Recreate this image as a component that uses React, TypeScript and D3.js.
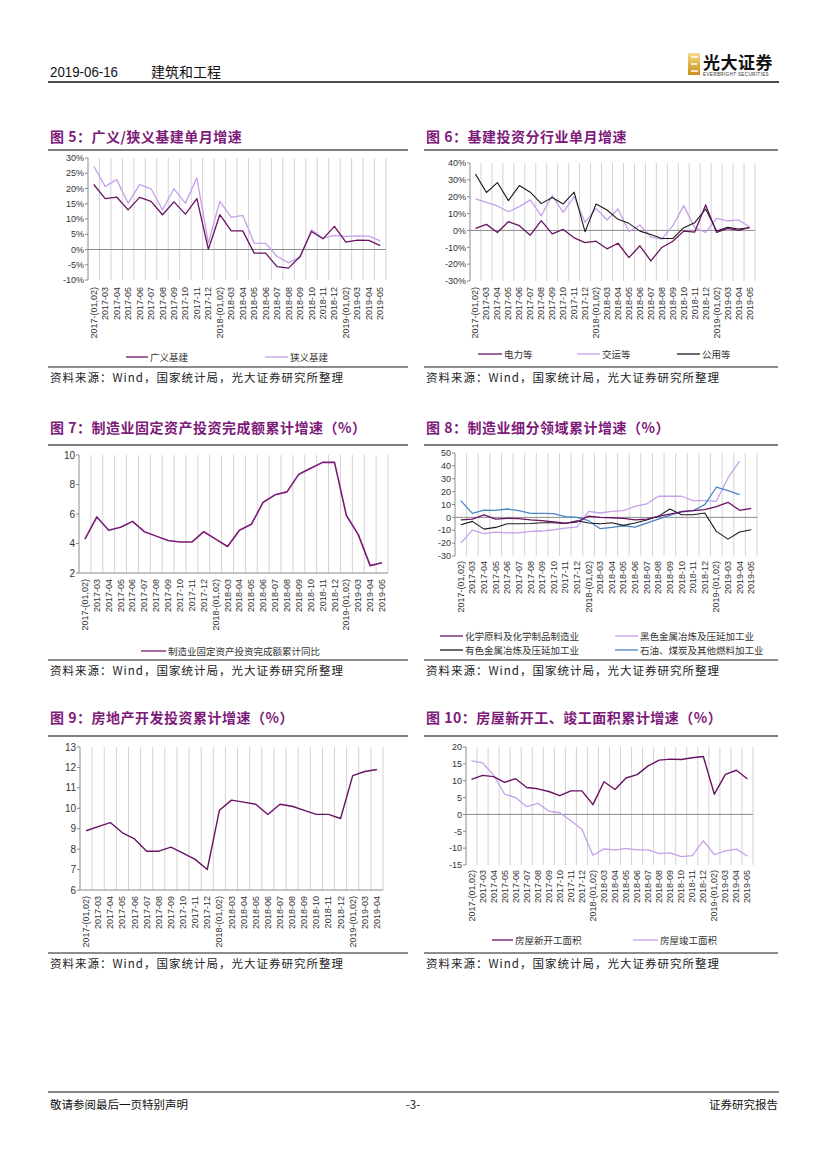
import React from "react";
import * as d3 from "d3";

const W = 827;
const H = 1169;

const DARK = "#6a1262";
const LIGHT = "#c6a0ea";
const BLACK = "#1b1b1b";
const BLUE = "#4a86c6";
const TITLE = "#7d1a7a";
const GRID = "#d3d3d3";
const AXIS = "#8c8c8c";
const CJK = "'Noto Sans CJK SC', 'Noto Sans', sans-serif";
const SANS = "'Liberation Sans', Arial, sans-serif";

// x categories
const CATS = [
  "2017-(01,02)", "2017-03", "2017-04", "2017-05", "2017-06", "2017-07", "2017-08", "2017-09", "2017-10", "2017-11", "2017-12",
  "2018-(01,02)", "2018-03", "2018-04", "2018-05", "2018-06", "2018-07", "2018-08", "2018-09", "2018-10", "2018-11", "2018-12",
  "2019-(01,02)", "2019-03", "2019-04", "2019-05",
];
const CATS_TO_APR = CATS.slice(0, 25);

// 图5
const broadInfra = [21.3, 16.7, 17.2, 13.0, 17.1, 15.8, 11.4, 15.6, 11.6, 16.7, 0.1, 11.4, 6.1, 6.1, -1.2, -1.2, -5.6, -6.1, -2.3, 5.9, 3.5, 7.6, 2.4, 3.1, 3.0, 1.3];
const narrowInfra = [27.3, 20.7, 22.9, 15.2, 21.3, 19.9, 13.0, 19.9, 15.2, 23.5, 2.1, 15.8, 10.5, 11.2, 2.1, 2.0, -2.3, -4.3, -2.6, 6.5, 3.7, 4.6, 4.3, 4.5, 4.4, 2.8];

// 图6
const power = [1.2, 3.6, -1.2, 5.2, 2.8, -2.8, 5.8, -2.0, 0.6, -4.4, -7.2, -6.4, -10.9, -7.6, -16.1, -9.1, -18.1, -10.1, -6.4, -0.4, -1.0, 15.1, -1.2, 1.2, 0.0, 1.8];
const transport = [18.7, 16.7, 14.5, 11.1, 14.1, 18.1, 8.7, 20.7, 10.7, 20.1, 4.8, 13.1, 6.2, 12.7, -0.8, 3.2, -3.8, -5.2, 2.8, 14.7, 1.6, -1.2, 7.2, 5.6, 6.2, 2.2];
const utility = [33.4, 22.5, 28.4, 17.7, 26.6, 22.7, 15.9, 19.5, 15.7, 22.7, -0.8, 15.7, 12.1, 6.6, 4.2, -0.4, -2.4, -4.8, -4.8, 1.6, 4.6, 12.7, -0.4, 1.8, 0.8, 1.6];

// 图7
const mfgInvest = [4.3, 5.8, 4.9, 5.1, 5.5, 4.8, 4.5, 4.2, 4.1, 4.1, 4.8, 4.3, 3.8, 4.9, 5.3, 6.8, 7.3, 7.5, 8.7, 9.1, 9.5, 9.5, 5.9, 4.6, 2.5, 2.7];

// 图8
const chemical = [-2.0, -1.3, 2.0, -1.3, -0.8, -1.0, -2.0, -2.6, -3.6, -4.4, -3.6, 1.0, 0.0, -0.3, -0.8, -2.0, -1.3, 0.8, 2.6, 4.2, 5.2, 6.0, 8.3, 11.7, 5.5, 7.0];
const ferrous = [-20.0, -9.9, -12.7, -11.4, -12.0, -12.0, -10.9, -10.6, -9.6, -8.3, -7.3, 4.7, 3.4, 4.7, 5.2, 8.6, 10.4, 16.4, 16.4, 16.4, 13.0, 13.0, 12.5, 30.6, 43.6, null];
const nonferrous = [-5.7, -3.1, -9.1, -7.8, -4.9, -4.9, -4.7, -4.2, -4.2, -4.7, -2.6, -4.4, -4.9, -4.2, -6.2, -4.4, -2.0, 0.8, 6.5, 2.0, 2.0, 3.4, -10.9, -16.9, -11.4, -9.6];
const petroleum = [13.0, 3.1, 5.7, 5.5, 6.5, 5.2, 3.1, 3.1, 2.9, 0.5, 0.0, -2.6, -8.8, -7.8, -6.5, -7.5, -4.4, -1.3, 1.6, 4.7, 5.2, 9.9, 23.4, 20.8, 17.7, null];

// 图9
const realEstate = [8.9, 9.1, 9.3, 8.8, 8.5, 7.9, 7.9, 8.1, 7.8, 7.5, 7.0, 9.9, 10.4, 10.3, 10.2, 9.7, 10.2, 10.1, 9.9, 9.7, 9.7, 9.5, 11.6, 11.8, 11.9];

// 图10
const newStarts = [10.4, 11.6, 11.2, 9.5, 10.6, 8.0, 7.6, 6.8, 5.6, 7.0, 7.0, 2.9, 9.7, 7.4, 10.8, 11.8, 14.4, 16.1, 16.4, 16.3, 16.8, 17.2, 6.0, 11.9, 13.1, 10.5];
const completed = [15.9, 15.3, 11.7, 6.0, 5.0, 2.3, 3.3, 1.0, 0.5, -1.9, -4.4, -12.1, -10.2, -10.6, -10.1, -10.5, -10.5, -11.6, -11.4, -12.5, -12.2, -7.8, -11.9, -10.8, -10.3, -12.4];

const TICKS_5 = [-10, -5, 0, 5, 10, 15, 20, 25, 30];
const TICKS_6 = [-30, -20, -10, 0, 10, 20, 30, 40];
const TICKS_7 = [2, 4, 6, 8, 10];
const TICKS_8 = [-30, -20, -10, 0, 10, 20, 30, 40, 50];
const TICKS_9 = [6, 7, 8, 9, 10, 11, 12, 13];
const TICKS_10 = [-15, -10, -5, 0, 5, 10, 15, 20];

const SOURCE = "资料来源：Wind，国家统计局，光大证券研究所整理";

type Series = { name: string; values: (number | null)[]; color: string; width?: number };
type LegendItem = { name: string; color: string; x: number; y: number; w: number };

function Chart(props: {
  left: number; right: number; top: number; bottom: number;
  cats: string[]; series: Series[]; domain: [number, number]; ticks: number[];
  fmt: (v: number) => string; tickFont?: number; labelTop: number;
}) {
  const { left, right, top, bottom, cats, series, domain, ticks, fmt } = props;
  const x = d3.scaleBand<string>().domain(cats).range([left, right]);
  const y = d3.scaleLinear().domain(domain).range([bottom, top]);
  const bw = x.bandwidth();
  const cx = (i: number) => (x(cats[i]) as number) + bw / 2;
  const line = d3.line<number | null>()
    .defined(d => d != null)
    .x((_, i) => cx(i))
    .y(d => y(d as number));
  const fs = props.tickFont ?? 9;
  const zeroY = domain[0] < 0 ? y(0) : bottom;
  return (
    <g>
      {cats.map(c => (
        <line key={"g" + c} x1={(x(c) as number) + bw} x2={(x(c) as number) + bw} y1={top} y2={bottom} stroke={GRID} strokeWidth={1} />
      ))}
      <line x1={left} x2={left} y1={top} y2={bottom} stroke={AXIS} strokeWidth={1} />
      {ticks.map(t => (
        <g key={"t" + t}>
          <line x1={left - 3} x2={left} y1={y(t)} y2={y(t)} stroke={AXIS} strokeWidth={1} />
          <text x={left - 4} y={y(t) + fs * 0.36} textAnchor="end" fontSize={fs} fontFamily={SANS} fill="#333">{fmt(t)}</text>
        </g>
      ))}
      <line x1={left} x2={right} y1={zeroY} y2={zeroY} stroke={AXIS} strokeWidth={1} />
      {cats.map((c, i) => (
        <text key={"l" + c} transform={`translate(${cx(i) + 3},${props.labelTop}) rotate(-90)`} textAnchor="end" fontSize={9} fontFamily={SANS} fill="#333">{c}</text>
      ))}
      {series.map(s => (
        <path key={s.name} d={line(s.values) || ""} fill="none" stroke={s.color} strokeWidth={s.width ?? 1.3} strokeLinejoin="round" />
      ))}
    </g>
  );
}

function Legend({ items }: { items: LegendItem[] }) {
  return (
    <g>
      {items.map(it => (
        <g key={it.name}>
          <line x1={it.x} x2={it.x + it.w} y1={it.y} y2={it.y} stroke={it.color} strokeWidth={1.3} />
          <text x={it.x + it.w + 2} y={it.y + 3.5} fontSize={9.5} fontFamily={CJK} fill="#333">{it.name}</text>
        </g>
      ))}
    </g>
  );
}

function Panel({ x0, x1, title, titleY, lineY, sourceY }: { x0: number; x1: number; title: string; titleY: number; lineY: number; sourceY: number }) {
  return (
    <g>
      <text x={x0 + 2} y={titleY} fontSize={14} fontWeight={700} fontFamily={CJK} fill={TITLE} letterSpacing={0.5}>{title}</text>
      <line x1={x0} x2={x1} y1={lineY} y2={lineY} stroke="#555" strokeWidth={1.3} />
      <line x1={x0} x2={x1} y1={sourceY} y2={sourceY} stroke="#666" strokeWidth={1.3} />
      <text x={x0 + 2} y={sourceY + 15} fontSize={11.5} fontFamily={CJK} fill="#222" letterSpacing={1}>{SOURCE}</text>
    </g>
  );
}

const pct = (v: number) => `${v}%`;
const num = (v: number) => `${v}`;

export default function App() {
  const LX0 = 48, LX1 = 408, RX0 = 424, RX1 = 778;
  return (
    <div style={{ position: "absolute", left: 0, top: 0 }}>
      <svg width={W} height={H} style={{ display: "block", background: "#fff" }}>
        <defs>
          <linearGradient id="gold" x1="0" x2="0" y1="0" y2="1">
            <stop offset="0" stopColor="#f3dc8e" />
            <stop offset="0.5" stopColor="#e0b54a" />
            <stop offset="1" stopColor="#c98f22" />
          </linearGradient>
        </defs>

        {/* header */}
        <text x={50} y={77} fontSize={14} fontFamily={SANS} fill="#111" textLength={68} lengthAdjust="spacingAndGlyphs">2019-06-16</text>
        <text x={151} y={77} fontSize={14} fontFamily={CJK} fill="#111">建筑和工程</text>
        <rect x={688} y={53} width={12} height={22} fill="url(#gold)" />
        <path d="M691,57 h7 M691,64 h6 M691,71 h7" stroke="#fff" strokeWidth={1.6} />
        <text x={703} y={69} fontSize={17} fontWeight={700} fontFamily="'Noto Sans CJK SC', serif" fill="#111" letterSpacing={0.5}>光大证券</text>
        <text x={703} y={76} fontSize={4.6} fontFamily={SANS} fill="#333" letterSpacing={0.35}>EVERBRIGHT SECURITIES</text>
        <line x1={48} x2={779} y1={82} y2={82} stroke="#111" strokeWidth={1.5} />

        {/* 图5 */}
        <Panel x0={LX0} x1={LX1} title="图 5：广义/狭义基建单月增速" titleY={142} lineY={150} sourceY={367} />
        <Chart left={88} right={386} top={158} bottom={280} cats={CATS} domain={[-10, 30]} ticks={TICKS_5} fmt={pct} labelTop={287}
          series={[
            { name: "狭义基建", values: narrowInfra, color: LIGHT },
            { name: "广义基建", values: broadInfra, color: DARK },
          ]} />
        <Legend items={[
          { name: "广义基建", color: DARK, x: 126, y: 357, w: 22 },
          { name: "狭义基建", color: LIGHT, x: 265, y: 357, w: 23 },
        ]} />

        {/* 图6 */}
        <Panel x0={RX0} x1={RX1} title="图 6：基建投资分行业单月增速" titleY={142} lineY={150} sourceY={367} />
        <Chart left={470} right={755} top={163} bottom={281} cats={CATS} domain={[-30, 40]} ticks={TICKS_6} fmt={pct} labelTop={287}
          series={[
            { name: "交运等", values: transport, color: LIGHT },
            { name: "公用等", values: utility, color: BLACK, width: 1.1 },
            { name: "电力等", values: power, color: DARK },
          ]} />
        <Legend items={[
          { name: "电力等", color: DARK, x: 478, y: 354, w: 24 },
          { name: "交运等", color: LIGHT, x: 577, y: 354, w: 23 },
          { name: "公用等", color: BLACK, x: 677, y: 354, w: 23 },
        ]} />

        {/* 图7 */}
        <Panel x0={LX0} x1={LX1} title="图 7：制造业固定资产投资完成额累计增速（%）" titleY={433} lineY={445} sourceY={660} />
        <Chart left={79} right={388} top={455} bottom={573} cats={CATS} domain={[2, 10]} ticks={TICKS_7} fmt={num} tickFont={10} labelTop={579}
          series={[{ name: "制造业固定资产投资完成额累计同比", values: mfgInvest, color: "#7a1a78", width: 1.6 }]} />
        <Legend items={[
          { name: "制造业固定资产投资完成额累计同比", color: "#7a1a78", x: 141, y: 651, w: 25 },
        ]} />

        {/* 图8 */}
        <Panel x0={RX0} x1={RX1} title="图 8：制造业细分领域累计增速（%）" titleY={433} lineY={445} sourceY={660} />
        <Chart left={455} right={757} top={453} bottom={556} cats={CATS} domain={[-30, 50]} ticks={TICKS_8} fmt={num} tickFont={9} labelTop={561}
          series={[
            { name: "黑色金属冶炼及压延加工业", values: ferrous, color: LIGHT },
            { name: "石油、煤炭及其他燃料加工业", values: petroleum, color: BLUE },
            { name: "有色金属冶炼及压延加工业", values: nonferrous, color: BLACK, width: 1.1 },
            { name: "化学原料及化学制品制造业", values: chemical, color: DARK },
          ]} />
        <Legend items={[
          { name: "化学原料及化学制品制造业", color: DARK, x: 440, y: 636, w: 23 },
          { name: "黑色金属冶炼及压延加工业", color: LIGHT, x: 615, y: 636, w: 23 },
          { name: "有色金属冶炼及压延加工业", color: BLACK, x: 440, y: 650, w: 23 },
          { name: "石油、煤炭及其他燃料加工业", color: BLUE, x: 615, y: 650, w: 23 },
        ]} />

        {/* 图9 */}
        <Panel x0={LX0} x1={LX1} title="图 9：房地产开发投资累计增速（%）" titleY={723} lineY={736} sourceY={953} />
        <Chart left={80} right={383} top={747} bottom={890} cats={CATS_TO_APR} domain={[6, 13]} ticks={TICKS_9} fmt={num} tickFont={10} labelTop={896}
          series={[{ name: "房地产开发投资", values: realEstate, color: DARK, width: 1.4 }]} />

        {/* 图10 */}
        <Panel x0={RX0} x1={RX1} title="图 10：房屋新开工、竣工面积累计增速（%）" titleY={723} lineY={736} sourceY={953} />
        <Chart left={466} right={753} top={747} bottom={865} cats={CATS} domain={[-15, 20]} ticks={TICKS_10} fmt={num} tickFont={9} labelTop={870}
          series={[
            { name: "房屋竣工面积", values: completed, color: LIGHT },
            { name: "房屋新开工面积", values: newStarts, color: DARK, width: 1.4 },
          ]} />
        <Legend items={[
          { name: "房屋新开工面积", color: DARK, x: 492, y: 940, w: 21 },
          { name: "房屋竣工面积", color: LIGHT, x: 633, y: 940, w: 25 },
        ]} />

        {/* footer */}
        <line x1={48} x2={779} y1={1092} y2={1092} stroke="#111" strokeWidth={1} />
        <text x={50} y={1109} fontSize={11.5} fontFamily={CJK} fill="#111">敬请参阅最后一页特别声明</text>
        <text x={413} y={1109} fontSize={11.5} fontFamily={CJK} fill="#111" textAnchor="middle">-3-</text>
        <text x={778} y={1109} fontSize={11.5} fontFamily={CJK} fill="#111" textAnchor="end">证券研究报告</text>
      </svg>
    </div>
  );
}
